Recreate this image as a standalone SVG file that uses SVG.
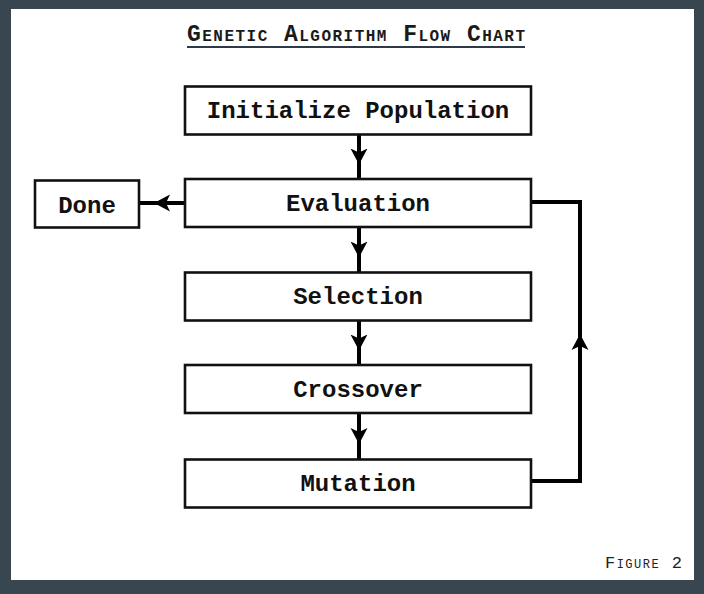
<svg xmlns="http://www.w3.org/2000/svg" width="704" height="594" viewBox="0 0 704 594">
  <style>
    .box { fill: #ffffff; stroke: #111111; stroke-width: 2.6; }
    .lbl { font-family: "Liberation Mono", "DejaVu Sans Mono", monospace; font-weight: bold; font-size: 24px; fill: #111111; text-anchor: middle; }
    .conn { fill: none; stroke: #000000; stroke-width: 4; stroke-linejoin: miter; }
    .arr { marker-mid: url(#head); }
  </style>
  <defs>
    <marker id="head" viewBox="0 0 16 18" refX="8" refY="9" markerWidth="16" markerHeight="18" markerUnits="userSpaceOnUse" orient="auto">
      <path d="M16 9 L0 0.5 L4 9 L0 17.5 Z" fill="#000000"/>
    </marker>
  </defs>
  <rect x="0" y="0" width="704" height="594" fill="#38464f"/>
  <rect x="11" y="9" width="683" height="571" fill="#ffffff"/>

  <g id="title">
    <text x="187" y="41" font-family="Liberation Mono, DejaVu Sans Mono, monospace" font-weight="bold" font-size="23" font-variant="small-caps" fill="#1a1a1a" textLength="338" lengthAdjust="spacing">Genetic  Algorithm  Flow  Chart</text>
    <line x1="187" y1="47" x2="525" y2="47" stroke="#2e3a48" stroke-width="2"/>
  </g>

  <g id="connectors">
    <path class="conn arr" d="M359 134 L359 156.5 L359 179"/>
    <path class="conn arr" d="M359 227 L359 249.5 L359 272"/>
    <path class="conn arr" d="M359 320 L359 342.5 L359 365"/>
    <path class="conn arr" d="M359 413 L359 436 L359 459"/>
    <path class="conn arr" d="M185 203 L162 203 L139 203"/>
    <path class="conn" d="M531 481 L580 481 L580 202 L531 202"/>
    <path class="conn arr" d="M580 400 L580 342 L580 300" style="stroke:none"/>
  </g>

  <g id="node-init">
    <rect class="box" x="185" y="86.5" width="346" height="48"/>
    <text class="lbl" x="358" y="118">Initialize Population</text>
  </g>
  <g id="node-evaluation">
    <rect class="box" x="185" y="179" width="346" height="48"/>
    <text class="lbl" x="358" y="211">Evaluation</text>
  </g>
  <g id="node-selection">
    <rect class="box" x="185" y="272.5" width="346" height="48"/>
    <text class="lbl" x="358" y="304">Selection</text>
  </g>
  <g id="node-crossover">
    <rect class="box" x="185" y="365" width="346" height="48"/>
    <text class="lbl" x="358" y="397">Crossover</text>
  </g>
  <g id="node-mutation">
    <rect class="box" x="185" y="459.5" width="346" height="48"/>
    <text class="lbl" x="358" y="491">Mutation</text>
  </g>
  <g id="node-done">
    <rect class="box" x="35" y="180.5" width="104" height="47"/>
    <text class="lbl" x="87" y="213">Done</text>
  </g>

  <g id="figure-label">
    <text x="605" y="568" font-family="Liberation Mono, DejaVu Sans Mono, monospace" font-size="17" font-variant="small-caps" fill="#222222" textLength="77" lengthAdjust="spacing">Figure 2</text>
  </g>
</svg>
